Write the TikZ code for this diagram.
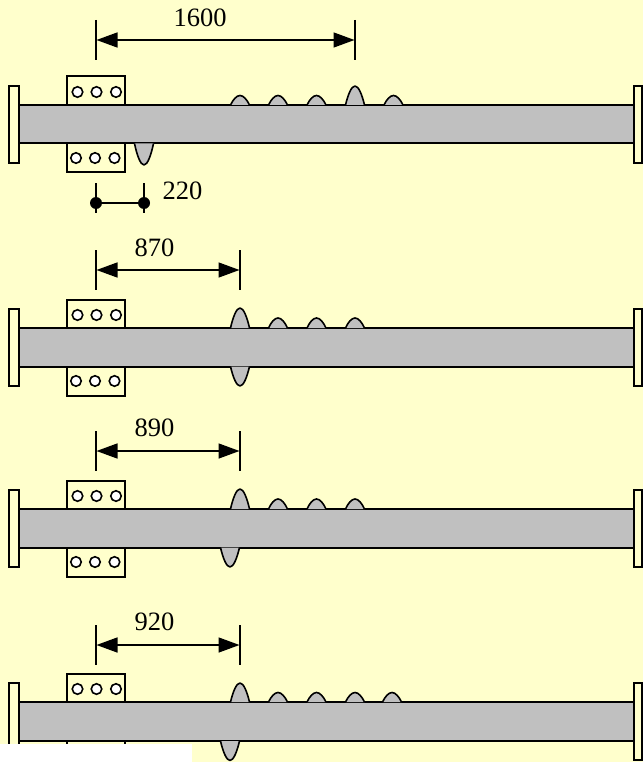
\documentclass[tikz,border=0pt]{standalone}
\usepackage{fontspec}
\setmainfont{Liberation Serif}
\usetikzlibrary{arrows.meta}
\definecolor{paper}{HTML}{FFFFCC}
\definecolor{steel}{HTML}{C0C0C0}
\tikzset{
  x=1pt,y=-1pt,
  outline/.style={draw=black,line width=2pt},
  beamface/.style={outline,fill=steel},
  bumpface/.style={draw=black,line width=1.6pt,fill=steel,line join=round},
  plateface/.style={outline,fill=paper},
  hole/.style={draw=black,line width=1.6pt,fill=white,circle,inner sep=0pt,minimum size=10.5pt},
  dimline/.style={draw=black,line width=1.5pt},
  dimarrow/.style={dimline,{Triangle[length=21pt,width=15pt]}-{Triangle[length=21pt,width=15pt]},shorten <=0.5pt,shorten >=0.5pt},
  extline/.style={draw=black,line width=1.4pt},
  dimtext/.style={font=\fontsize{26.5}{29}\selectfont,inner sep=0pt},
  dot/.style={circle,fill=black,inner sep=0pt,minimum size=12pt},
}
\newcommand{\bump}[3]{%
  \path[bumpface] (#1-9.5,#2) .. controls (#1-7,{#2+0.55*(#3-#2)}) and (#1-3.5,#3) .. (#1,#3) .. controls (#1+3.5,#3) and (#1+7,{#2+0.55*(#3-#2)}) .. (#1+9.5,#2);}
\newcommand{\beamrow}[2]{%
  \path[plateface] (9,#2-19) rectangle (19,#2+58);
  \path[plateface] (634,#2-19) rectangle (642.2,#2+58);
  \path[plateface] (67,#2-28.5) rectangle (125,#2);
  \path[plateface] (67,#2+38.5) rectangle (125,#2+67.5);
  \path[beamface] (19,#2) rectangle (634,#2+38.5);
  \node[hole] (#1ta) at (77.5,#2-13) {};
  \node[hole] (#1tb) at (96.5,#2-13) {};
  \node[hole] (#1tc) at (116,#2-13) {};
  \node[hole] (#1ba) at (76,#2+53) {};
  \node[hole] (#1bb) at (95,#2+53) {};
  \node[hole] (#1bc) at (114.5,#2+53) {};
}
\newcommand{\dimspan}[6]{%
  \coordinate (#1l) at (96,#3);
  \coordinate (#1r) at (#2,#3);
  \draw[extline] (96,#3-20) -- (96,#3+20);
  \draw[extline] (#2,#3-20) -- (#2,#3+20);
  \draw[dimarrow] (#1l) -- (#1r);
  \node[dimtext] (#1t) at (#4,#5) {#6};
}
\begin{document}
\begin{tikzpicture}
\useasboundingbox (0,0) rectangle (643,762);
\fill[paper] (0,0) rectangle (643,762);
% row 1
\beamrow{a}{105}
\bump{240}{105}{95.5}\bump{278}{105}{95.5}\bump{316.5}{105}{95.5}\bump{355}{105}{86}\bump{393.5}{105}{95.5}
\bump{144}{143.5}{165}
\dimspan{da}{355}{40}{200}{17.5}{1600}
\coordinate (sa) at (96,203);
\coordinate (sb) at (144,203);
\draw[extline] (96,183) -- (96,213);
\draw[extline] (144,183) -- (144,213);
\node[dot] (sdl) at (sa) {};
\node[dot] (sdr) at (sb) {};
\draw[dimline] (sdl) -- (sdr);
\node[dimtext] (st) at (182.5,190.5) {220};
% row 2
\beamrow{b}{328}
\bump{240}{328}{308}\bump{278}{328}{318}\bump{316.5}{328}{318}\bump{355}{328}{318}
\bump{240}{366.5}{386}
\dimspan{db}{240}{270}{154.5}{248}{870}
% row 3
\beamrow{c}{509}
\bump{240}{509}{489}\bump{278}{509}{499}\bump{316.5}{509}{499}\bump{355}{509}{499}
\bump{230}{547.5}{567}
\dimspan{dc}{240}{451}{154.5}{428}{890}
% row 4
\beamrow{d}{702}
\bump{240}{702}{683}\bump{278}{702}{692.5}\bump{316.5}{702}{692.5}\bump{355}{702}{692.5}\bump{392}{702}{692.5}
\bump{230}{741}{760.5}
\dimspan{dd}{240}{645}{154.5}{622}{920}
% white patch at lower left
\fill[white] (0,744) rectangle (192,762);
\end{tikzpicture}
\end{document}
